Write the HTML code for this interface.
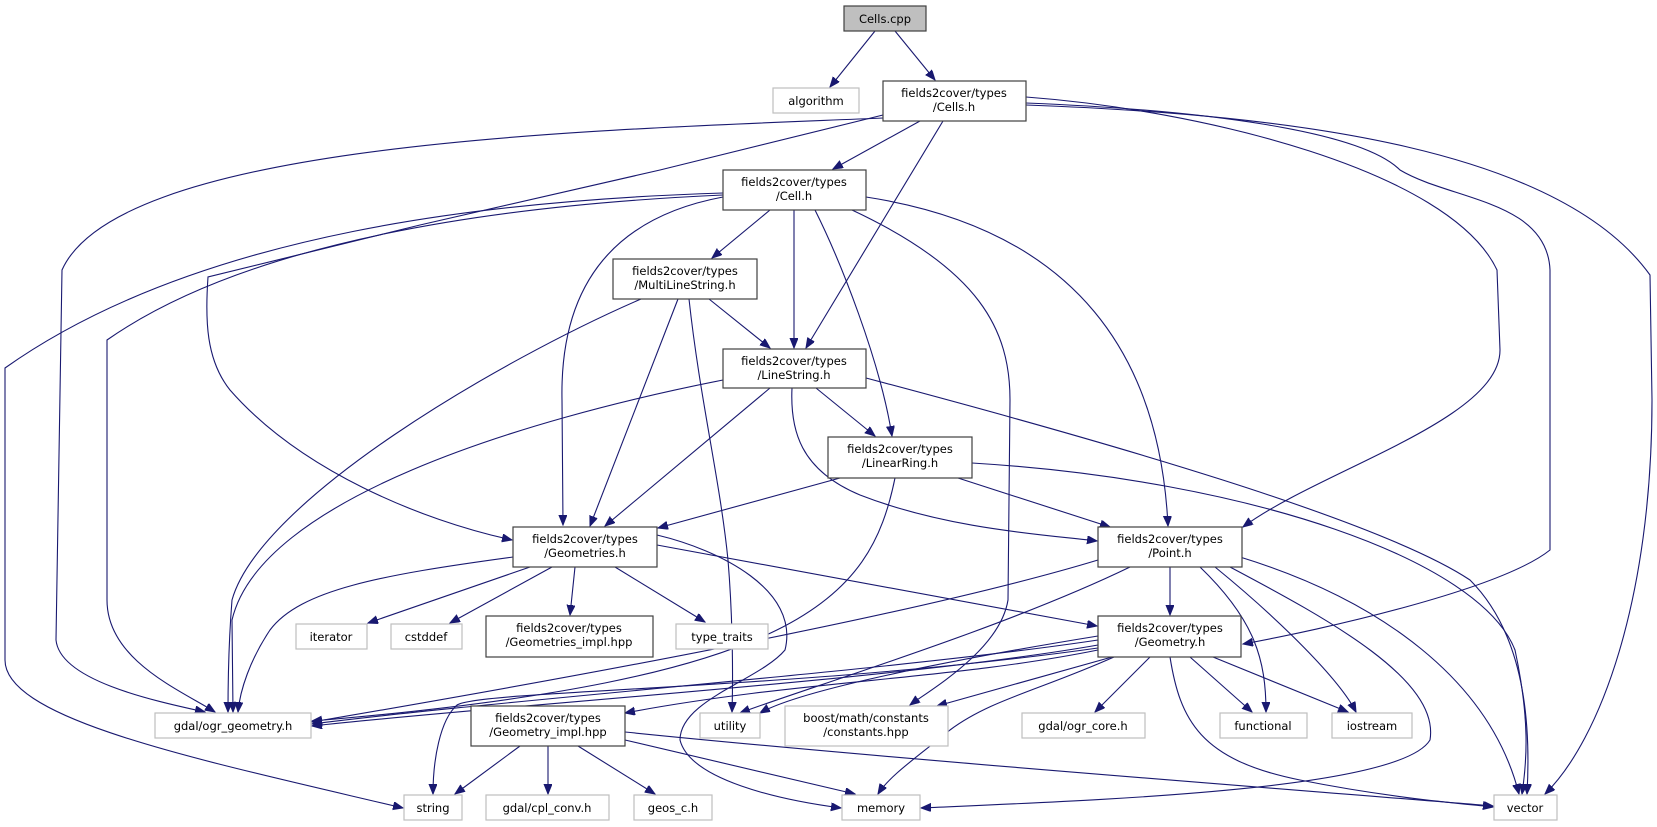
<!DOCTYPE html>
<html><head><meta charset="utf-8"><style>
html,body{margin:0;padding:0;background:#fff;}
svg{display:block}
text{font-family:"DejaVu Sans","Liberation Sans",sans-serif;font-size:11.5px;fill:#000;text-anchor:middle}
.e{fill:none;stroke:#191970;stroke-width:1.1}
.n{fill:#fff;stroke:#404040;stroke-width:1.2}
.g{fill:#fff;stroke:#bfbfbf;stroke-width:1.2}
</style></head><body>
<svg width="1657" height="827" viewBox="0 0 1657 827" xmlns="http://www.w3.org/2000/svg">
<defs><marker id="a" markerUnits="userSpaceOnUse" markerWidth="11" markerHeight="9" refX="10" refY="4" orient="auto"><path d="M0,0 L10,4 L0,8 z" fill="#191970" stroke="#191970"/></marker></defs>
<g marker-end="url(#a)">
<path class="e" d="M875,31 L830,87"/>
<path class="e" d="M895,31 L935,80"/>
<path class="e" d="M920,121 L833,169"/>
<path class="e" d="M943,121 L806,348"/>
<path class="e" d="M883,118 C600,130 120,140 62,270 L56,640 C60,680 150,700 205,712"/>
<path class="e" d="M883,115 L660,170 L420,225 L208,277 C205,320 206,360 230,390 C300,470 420,520 512,540"/>
<path class="e" d="M1026,97 C1200,110 1450,170 1497,270 L1500,350 C1500,420 1320,470 1243,527"/>
<path class="e" d="M1026,103 C1200,110 1360,130 1400,170 C1450,200 1547,200 1550,270 L1550,550 C1500,590 1320,630 1243,644"/>
<path class="e" d="M1026,105 C1300,115 1560,150 1650,275 L1652,400 C1652,600 1600,740 1545,794"/>
<path class="e" d="M770,210 L712,258"/>
<path class="e" d="M794,210 L794,348"/>
<path class="e" d="M815,210 C840,260 880,360 892,436"/>
<path class="e" d="M723,197 C600,220 560,300 562,400 L563,525"/>
<path class="e" d="M866,197 C1080,230 1160,360 1168,526"/>
<path class="e" d="M852,210 C980,270 1010,330 1010,400 L1008,600 C1000,650 930,690 910,705"/>
<path class="e" d="M723,193 C500,200 200,230 5,368 L5,660 C5,720 200,760 403,808"/>
<path class="e" d="M723,195 C500,205 250,240 107,340 L107,600 C107,660 180,690 215,712"/>
<path class="e" d="M709,299 L770,348"/>
<path class="e" d="M678,299 L590,526"/>
<path class="e" d="M689,299 C700,400 720,480 728,560 C733,620 733,680 732,712"/>
<path class="e" d="M641,299 C500,360 260,500 232,600 C228,650 228,690 228,712"/>
<path class="e" d="M816,388 L875,436"/>
<path class="e" d="M770,388 L605,526"/>
<path class="e" d="M792,388 C790,430 800,470 860,495 C950,530 1050,535 1097,541"/>
<path class="e" d="M723,380 C520,420 260,500 232,620 L233,712"/>
<path class="e" d="M866,378 C1100,440 1380,520 1470,580 C1530,640 1530,740 1527,794"/>
<path class="e" d="M840,478 L658,528"/>
<path class="e" d="M958,478 L1110,527"/>
<path class="e" d="M895,478 C870,600 800,680 312,721"/>
<path class="e" d="M972,463 C1250,480 1480,560 1515,650 C1530,720 1527,760 1522,794"/>
<path class="e" d="M530,567 L368,623"/>
<path class="e" d="M552,567 L450,623"/>
<path class="e" d="M575,567 L570,615"/>
<path class="e" d="M615,567 L705,622"/>
<path class="e" d="M657,545 L1097,626"/>
<path class="e" d="M513,557 C380,575 300,590 270,630 C250,660 240,690 238,712"/>
<path class="e" d="M657,535 C720,550 800,590 785,650 C760,680 680,700 680,740 C690,780 780,800 841,808"/>
<path class="e" d="M1170,567 L1170,615"/>
<path class="e" d="M1098,560 C900,620 500,690 312,722"/>
<path class="e" d="M1130,567 C1000,630 800,690 740,713"/>
<path class="e" d="M1200,567 C1255,620 1266,660 1266,712"/>
<path class="e" d="M1215,567 C1280,620 1340,680 1356,712"/>
<path class="e" d="M1230,567 C1330,620 1440,680 1430,740 C1400,790 1100,800 921,808"/>
<path class="e" d="M1240,557 C1380,600 1490,680 1519,794"/>
<path class="e" d="M1098,640 C900,670 500,700 312,724"/>
<path class="e" d="M1098,645 C900,680 500,705 312,726"/>
<path class="e" d="M1098,648 C800,690 480,690 457,705 C440,720 433,760 433,794"/>
<path class="e" d="M1098,650 C950,680 800,680 625,713"/>
<path class="e" d="M1098,636 C950,660 800,690 760,713"/>
<path class="e" d="M1112,657 L937,706"/>
<path class="e" d="M1150,657 L1095,712"/>
<path class="e" d="M1190,657 L1252,712"/>
<path class="e" d="M1213,657 L1348,712"/>
<path class="e" d="M1114,657 C1040,690 990,700 950,730 C920,755 890,775 878,794"/>
<path class="e" d="M1170,657 C1180,720 1200,760 1300,780 C1400,800 1480,805 1493,807"/>
<path class="e" d="M520,746 L455,794"/>
<path class="e" d="M548,746 L548,794"/>
<path class="e" d="M578,746 L655,794"/>
<path class="e" d="M625,740 L855,794"/>
<path class="e" d="M625,732 C900,760 1300,790 1493,806"/>
</g>
<rect x="844" y="6" width="82" height="25" fill="#bfbfbf" stroke="#404040" stroke-width="1.2"/><text x="885" y="23">Cells.cpp</text>
<rect class="g" x="773" y="88" width="86" height="25"/><text x="816" y="105">algorithm</text>
<rect class="n" x="883" y="81" width="143" height="40"/><text x="954" y="97">fields2cover/types</text><text x="954" y="111">/Cells.h</text>
<rect class="n" x="723" y="170" width="143" height="40"/><text x="794" y="186">fields2cover/types</text><text x="794" y="200">/Cell.h</text>
<rect class="n" x="613" y="259" width="144" height="40"/><text x="685" y="275">fields2cover/types</text><text x="685" y="289">/MultiLineString.h</text>
<rect class="n" x="723" y="349" width="143" height="39"/><text x="794" y="365">fields2cover/types</text><text x="794" y="379">/LineString.h</text>
<rect class="n" x="828" y="437" width="144" height="41"/><text x="900" y="453">fields2cover/types</text><text x="900" y="467">/LinearRing.h</text>
<rect class="n" x="513" y="527" width="144" height="40"/><text x="585" y="543">fields2cover/types</text><text x="585" y="557">/Geometries.h</text>
<rect class="n" x="1098" y="527" width="144" height="40"/><text x="1170" y="543">fields2cover/types</text><text x="1170" y="557">/Point.h</text>
<rect class="n" x="1098" y="616" width="143" height="41"/><text x="1170" y="632">fields2cover/types</text><text x="1170" y="646">/Geometry.h</text>
<rect class="g" x="296" y="624" width="71" height="25"/><text x="331" y="641">iterator</text>
<rect class="g" x="391" y="624" width="71" height="25"/><text x="426" y="641">cstddef</text>
<rect class="n" x="486" y="616" width="167" height="41"/><text x="569" y="632">fields2cover/types</text><text x="569" y="646">/Geometries_impl.hpp</text>
<rect class="g" x="676" y="624" width="92" height="25"/><text x="722" y="641">type_traits</text>
<rect class="g" x="155" y="713" width="156" height="25"/><text x="233" y="730">gdal/ogr_geometry.h</text>
<rect class="n" x="471" y="706" width="154" height="40"/><text x="548" y="722">fields2cover/types</text><text x="548" y="736">/Geometry_impl.hpp</text>
<rect class="g" x="700" y="713" width="60" height="25"/><text x="730" y="730">utility</text>
<rect class="g" x="785" y="706" width="163" height="40"/><text x="866" y="722">boost/math/constants</text><text x="866" y="736">/constants.hpp</text>
<rect class="g" x="1022" y="713" width="123" height="25"/><text x="1083" y="730">gdal/ogr_core.h</text>
<rect class="g" x="1220" y="713" width="87" height="25"/><text x="1263" y="730">functional</text>
<rect class="g" x="1332" y="713" width="80" height="25"/><text x="1372" y="730">iostream</text>
<rect class="g" x="404" y="795" width="58" height="25"/><text x="433" y="812">string</text>
<rect class="g" x="486" y="795" width="123" height="25"/><text x="547" y="812">gdal/cpl_conv.h</text>
<rect class="g" x="634" y="795" width="78" height="25"/><text x="673" y="812">geos_c.h</text>
<rect class="g" x="842" y="795" width="78" height="25"/><text x="881" y="812">memory</text>
<rect class="g" x="1494" y="795" width="63" height="25"/><text x="1525" y="812">vector</text>
</svg>
</body></html>
